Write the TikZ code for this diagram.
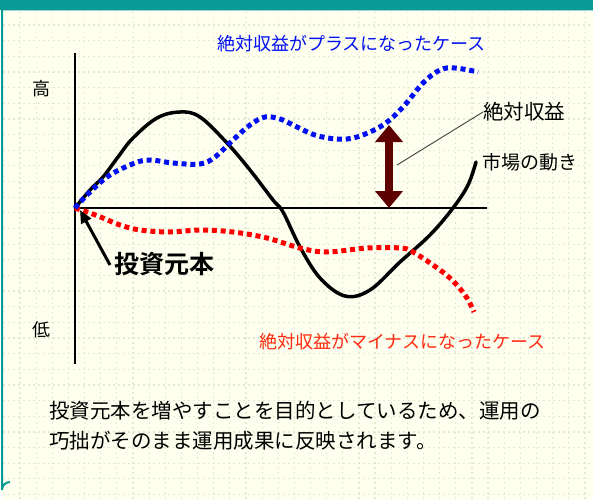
\documentclass[tikz,border=0pt]{standalone}
\usepackage{fontspec}
\newfontfamily\jp{Noto Sans CJK JP}[BoldFont={Noto Sans CJK JP Bold}]
\usetikzlibrary{arrows.meta}
\definecolor{bgcream}{HTML}{FFFFF0}
\definecolor{gridc}{HTML}{E2EAD4}
\definecolor{tealc}{HTML}{0A9A96}
\definecolor{tealL}{HTML}{9CD6D2}
\definecolor{blueC}{HTML}{0010F0}
\definecolor{redC}{HTML}{FF0000}
\definecolor{redT}{HTML}{FF2A10}
\definecolor{brownC}{HTML}{5C0000}
\definecolor{leadC}{HTML}{404040}
\tikzset{
  gridline/.style={gridc, line width=1.2pt, dash pattern=on 1.5pt off 3.5pt},
  axisline/.style={black, line width=1.3pt},
  market/.style={black, line width=3.5pt, line join=round, line cap=round},
  dotcurve/.style={line width=5pt, dash pattern=on 5pt off 3.8pt},
  lbl/.style={inner sep=0pt, font=\jp},
}
\begin{document}
\begin{tikzpicture}[x=1pt,y=-1pt]
\useasboundingbox (0,0) rectangle (593,500);
% background and frame
\fill[white] (0,0) rectangle (593,500);
\fill[bgcream] (2,10) rectangle (593,500);
\foreach \i in {0,...,35} {\draw[gridline] ({20+16.14*\i},12) -- ({20+16.14*\i},500);}
\foreach \j in {0,...,30} {\draw[gridline] (3,{25+15.65*\j}) -- (593,{25+15.65*\j});}
\fill[tealc] (0,0) rectangle (593,10);
\draw[tealL, line width=1pt] (3,11) -- (593,11);
\draw[tealc, line width=2pt] (2,10) -- (2,490) arc[start angle=180, end angle=270, radius=8];
% axes
\coordinate (O) at (75,208);
\coordinate (ytop) at (75,53);
\coordinate (ybot) at (75,364);
\coordinate (xend) at (487,208);
\draw[axisline] (ytop) -- (ybot);
\draw[axisline] (O) -- (xend);
% market curve
\draw[market] plot[smooth, tension=0.6] coordinates {
 (75,208) (90,190) (103,177) (118,157) (133,138) (157,118) (180,112) (200,117)
 (227,143) (250,170) (273,200) (283,212) (300,247) (320,278) (345,296) (370,290)
 (400,262) (430,235) (453,208) (468,185) (476,162)};
% red curve
\draw[dotcurve, redC] plot[smooth, tension=0.6] coordinates {
 (75,208) (90,213) (103,218) (120,225) (140,230) (170,232) (200,230) (233,232)
 (267,238) (300,248) (327,252) (367,248) (400,248) (413,252) (440,270) (455,283)
 (467,298) (474,312)};
% blue curve
\draw[dotcurve, blueC] plot[smooth, tension=0.6] coordinates {
 (75,208) (90,192) (110,175) (135,163) (150,160) (173,163) (200,164) (215,157)
 (233,140) (250,125) (265,117) (280,119) (293,125) (315,135) (337,139) (357,137)
 (383,125) (403,107) (423,83) (440,70) (455,68) (478,72)};
% absolute return arrow
\coordinate (ta) at (389,125);
\coordinate (tb) at (389,208);
\draw[brownC, line width=8pt, {Triangle[length=17pt,width=27pt]}-{Triangle[length=17pt,width=27pt]}] (ta) -- (tb);
% labels
\node[lbl, font=\jp\fontsize{18}{18}\selectfont] (high) at (41,89) {高};
\node[lbl, font=\jp\fontsize{18}{18}\selectfont] (low) at (41,330) {低};
\node[lbl, anchor=west, text=blueC, font=\jp\fontsize{18}{18}\selectfont] (plus) at (217,44) {絶対収益がプラスになったケース};
\node[lbl, anchor=west, text=redT, font=\jp\fontsize{18}{18}\selectfont] (minus) at (259,342) {絶対収益がマイナスになったケース};
\node[lbl, anchor=west, font=\jp\fontsize{20.5}{20}\selectfont] (abs) at (483,112) {絶対収益};
\node[lbl, anchor=west, font=\jp\fontsize{19}{19}\selectfont] (mkt) at (482,162) {市場の動き};
\node[lbl, anchor=west, font=\jp\bfseries\fontsize{25}{25}\selectfont] (prin) at (114,264) {投資元本};
\node[lbl, anchor=north west, align=left, font=\jp\fontsize{20.5}{30}\selectfont] (desc) at (49,401)
 {投資元本を増やすことを目的としているため、運用の\\巧拙がそのまま運用成果に反映されます。};
% leader line and principal arrow
\coordinate (lead) at (397,165);
\draw[leadC, line width=0.9pt] (abs.west) -- (lead);
\coordinate (tip) at (80,210);
\draw[black, line width=3pt, -{Triangle[length=13pt,width=11pt]}] (110,265) -- (tip);
\end{tikzpicture}
\end{document}
